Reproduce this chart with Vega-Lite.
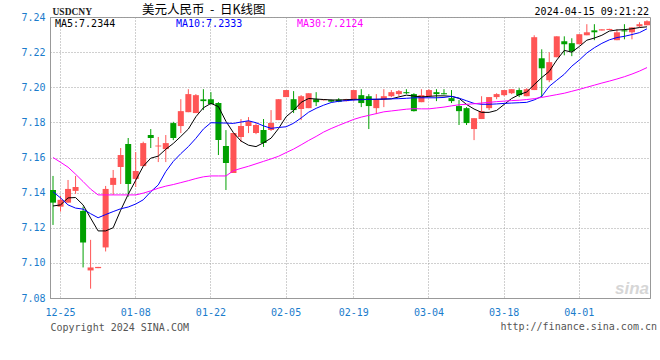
{
"$schema": "https://vega.github.io/schema/vega-lite/v6.json",
"width": 600, "height": 281,
"autosize": "none",
"padding": {"left": 50, "top": 17, "right": 10, "bottom": 62},
"background": "#ffffff",
"title": {"text": "美元人民币\u00a0\u00a0-\u00a0\u00a0日K线图", "anchor": "start", "frame": "group", "dx": 92, "dy": 24, "offset": 1, "font": "Noto Sans CJK SC", "fontSize": 12.5, "fontWeight": "normal", "color": "#000000", "baseline": "bottom"},
"data": {"values": [
{"d":"2023-12-22","o":7.1415,"h":7.1495,"l":7.1216,"c":7.1343,"m5":7.1324,"m10":7.1405,"m30":7.1600},
{"d":"2023-12-25","o":7.1320,"h":7.1381,"l":7.1292,"c":7.1359,"m5":7.1330,"m10":7.1370,"m30":7.1573},
{"d":"2023-12-26","o":7.1343,"h":7.1472,"l":7.1343,"c":7.1421,"m5":7.1370,"m10":7.1330,"m30":7.1545},
{"d":"2023-12-27","o":7.1410,"h":7.1495,"l":7.1393,"c":7.1432,"m5":7.1372,"m10":7.1312,"m30":7.1505},
{"d":"2023-12-28","o":7.1296,"h":7.1320,"l":7.0974,"c":7.1116,"m5":7.1330,"m10":7.1306,"m30":7.1463},
{"d":"2023-12-29","o":7.0957,"h":7.1131,"l":7.0853,"c":7.0974,"m5":7.1255,"m10":7.1280,"m30":7.1420},
{"d":"2024-01-01","o":7.0970,"h":7.0977,"l":7.0970,"c":7.0977,"m5":7.1182,"m10":7.1257,"m30":7.1387},
{"d":"2024-01-02","o":7.1088,"h":7.1438,"l":7.1065,"c":7.1421,"m5":7.1182,"m10":7.1275,"m30":7.1387},
{"d":"2024-01-03","o":7.1444,"h":7.1529,"l":7.1387,"c":7.1484,"m5":7.1200,"m10":7.1292,"m30":7.1387},
{"d":"2024-01-04","o":7.1546,"h":7.1654,"l":7.1449,"c":7.1614,"m5":7.1300,"m10":7.1308,"m30":7.1387},
{"d":"2024-01-05","o":7.1677,"h":7.1711,"l":7.1377,"c":7.1449,"m5":7.1390,"m10":7.1318,"m30":7.1387},
{"d":"2024-01-08","o":7.1478,"h":7.1631,"l":7.1432,"c":7.1523,"m5":7.1470,"m10":7.1335,"m30":7.1387},
{"d":"2024-01-09","o":7.1551,"h":7.1690,"l":7.1551,"c":7.1682,"m5":7.1550,"m10":7.1359,"m30":7.1397},
{"d":"2024-01-10","o":7.1728,"h":7.1762,"l":7.1654,"c":7.1711,"m5":7.1596,"m10":7.1405,"m30":7.1410},
{"d":"2024-01-11","o":7.1663,"h":7.1717,"l":7.1574,"c":7.1668,"m5":7.1608,"m10":7.1444,"m30":7.1425},
{"d":"2024-01-12","o":7.1648,"h":7.1728,"l":7.1574,"c":7.1682,"m5":7.1647,"m10":7.1520,"m30":7.1437},
{"d":"2024-01-15","o":7.1796,"h":7.1803,"l":7.1699,"c":7.1711,"m5":7.1680,"m10":7.1578,"m30":7.1446},
{"d":"2024-01-16","o":7.1779,"h":7.1932,"l":7.1739,"c":7.1864,"m5":7.1720,"m10":7.1622,"m30":7.1457},
{"d":"2024-01-17","o":7.1858,"h":7.1989,"l":7.1858,"c":7.1961,"m5":7.1762,"m10":7.1662,"m30":7.1468},
{"d":"2024-01-18","o":7.1853,"h":7.1961,"l":7.1853,"c":7.1955,"m5":7.1832,"m10":7.1709,"m30":7.1480},
{"d":"2024-01-19","o":7.1931,"h":7.1989,"l":7.1870,"c":7.1921,"m5":7.1883,"m10":7.1762,"m30":7.1490},
{"d":"2024-01-22","o":7.1932,"h":7.1972,"l":7.1902,"c":7.1904,"m5":7.1908,"m10":7.1798,"m30":7.1495},
{"d":"2024-01-23","o":7.1910,"h":7.1915,"l":7.1614,"c":7.1699,"m5":7.1890,"m10":7.1797,"m30":7.1495},
{"d":"2024-01-24","o":7.1665,"h":7.1756,"l":7.1415,"c":7.1569,"m5":7.1806,"m10":7.1796,"m30":7.1495},
{"d":"2024-01-25","o":7.1512,"h":7.1739,"l":7.1512,"c":7.1739,"m5":7.1741,"m10":7.1794,"m30":7.1525},
{"d":"2024-01-26","o":7.1717,"h":7.1819,"l":7.1688,"c":7.1779,"m5":7.1694,"m10":7.1802,"m30":7.1538},
{"d":"2024-01-29","o":7.1779,"h":7.1830,"l":7.1739,"c":7.1807,"m5":7.1670,"m10":7.1809,"m30":7.1550},
{"d":"2024-01-30","o":7.1739,"h":7.1796,"l":7.1733,"c":7.1785,"m5":7.1662,"m10":7.1798,"m30":7.1564},
{"d":"2024-01-31","o":7.1756,"h":7.1819,"l":7.1660,"c":7.1682,"m5":7.1684,"m10":7.1780,"m30":7.1578},
{"d":"2024-02-01","o":7.1756,"h":7.1870,"l":7.1751,"c":7.1796,"m5":7.1710,"m10":7.1766,"m30":7.1592},
{"d":"2024-02-02","o":7.1813,"h":7.1932,"l":7.1813,"c":7.1932,"m5":7.1765,"m10":7.1771,"m30":7.1607},
{"d":"2024-02-05","o":7.1944,"h":7.1984,"l":7.1944,"c":7.1984,"m5":7.1832,"m10":7.1775,"m30":7.1628},
{"d":"2024-02-06","o":7.1932,"h":7.1978,"l":7.1853,"c":7.1870,"m5":7.1868,"m10":7.1795,"m30":7.1648},
{"d":"2024-02-07","o":7.1876,"h":7.1955,"l":7.1813,"c":7.1949,"m5":7.1914,"m10":7.1825,"m30":7.1672},
{"d":"2024-02-08","o":7.1881,"h":7.1966,"l":7.1881,"c":7.1966,"m5":7.1936,"m10":7.1858,"m30":7.1697},
{"d":"2024-02-09","o":7.1932,"h":7.1972,"l":7.1893,"c":7.1915,"m5":7.1933,"m10":7.1880,"m30":7.1720},
{"d":"2024-02-13","o":7.1926,"h":7.1933,"l":7.1924,"c":7.1932,"m5":7.1930,"m10":7.1898,"m30":7.1745},
{"d":"2024-02-14","o":7.1927,"h":7.1930,"l":7.1916,"c":7.1918,"m5":7.1928,"m10":7.1913,"m30":7.1765},
{"d":"2024-02-15","o":7.1930,"h":7.1938,"l":7.1915,"c":7.1917,"m5":7.1927,"m10":7.1920,"m30":7.1783},
{"d":"2024-02-16","o":7.1921,"h":7.1934,"l":7.1919,"c":7.1932,"m5":7.1929,"m10":7.1924,"m30":7.1800},
{"d":"2024-02-19","o":7.1932,"h":7.1984,"l":7.1921,"c":7.1984,"m5":7.1931,"m10":7.1927,"m30":7.1817},
{"d":"2024-02-20","o":7.1955,"h":7.1989,"l":7.1887,"c":7.1910,"m5":7.1931,"m10":7.1929,"m30":7.1830},
{"d":"2024-02-21","o":7.1949,"h":7.1961,"l":7.1762,"c":7.1893,"m5":7.1931,"m10":7.1931,"m30":7.1840},
{"d":"2024-02-22","o":7.1881,"h":7.1961,"l":7.1847,"c":7.1932,"m5":7.1931,"m10":7.1932,"m30":7.1850},
{"d":"2024-02-23","o":7.1932,"h":7.1989,"l":7.1887,"c":7.1949,"m5":7.1932,"m10":7.1933,"m30":7.1860},
{"d":"2024-02-26","o":7.1949,"h":7.1984,"l":7.1944,"c":7.1972,"m5":7.1934,"m10":7.1934,"m30":7.1865},
{"d":"2024-02-27","o":7.1961,"h":7.1984,"l":7.1949,"c":7.1978,"m5":7.1945,"m10":7.1935,"m30":7.1870},
{"d":"2024-02-28","o":7.1972,"h":7.1989,"l":7.1961,"c":7.1966,"m5":7.1955,"m10":7.1937,"m30":7.1875},
{"d":"2024-02-29","o":7.1961,"h":7.1966,"l":7.1862,"c":7.1864,"m5":7.1950,"m10":7.1940,"m30":7.1878},
{"d":"2024-03-01","o":7.1915,"h":7.1989,"l":7.1915,"c":7.1955,"m5":7.1945,"m10":7.1940,"m30":7.1877},
{"d":"2024-03-04","o":7.1949,"h":7.1989,"l":7.1949,"c":7.1984,"m5":7.1948,"m10":7.1940,"m30":7.1877},
{"d":"2024-03-05","o":7.1972,"h":7.1989,"l":7.1921,"c":7.1961,"m5":7.1951,"m10":7.1940,"m30":7.1882},
{"d":"2024-03-06","o":7.1966,"h":7.1989,"l":7.1959,"c":7.1960,"m5":7.1951,"m10":7.1942,"m30":7.1887},
{"d":"2024-03-07","o":7.1938,"h":7.1984,"l":7.1910,"c":7.1921,"m5":7.1948,"m10":7.1948,"m30":7.1894},
{"d":"2024-03-08","o":7.1893,"h":7.1927,"l":7.1785,"c":7.1864,"m5":7.1937,"m10":7.1938,"m30":7.1900},
{"d":"2024-03-11","o":7.1881,"h":7.1887,"l":7.1785,"c":7.1796,"m5":7.1902,"m10":7.1923,"m30":7.1903},
{"d":"2024-03-12","o":7.1762,"h":7.1824,"l":7.1699,"c":7.1824,"m5":7.1876,"m10":7.1908,"m30":7.1906},
{"d":"2024-03-13","o":7.1819,"h":7.1949,"l":7.1819,"c":7.1864,"m5":7.1857,"m10":7.1903,"m30":7.1910},
{"d":"2024-03-14","o":7.1881,"h":7.1944,"l":7.1870,"c":7.1944,"m5":7.1857,"m10":7.1903,"m30":7.1914},
{"d":"2024-03-15","o":7.1944,"h":7.1966,"l":7.1932,"c":7.1961,"m5":7.1868,"m10":7.1905,"m30":7.1918},
{"d":"2024-03-18","o":7.1955,"h":7.1984,"l":7.1949,"c":7.1984,"m5":7.1902,"m10":7.1908,"m30":7.1921},
{"d":"2024-03-19","o":7.1966,"h":7.1989,"l":7.1961,"c":7.1989,"m5":7.1936,"m10":7.1910,"m30":7.1924},
{"d":"2024-03-20","o":7.1984,"h":7.1995,"l":7.1944,"c":7.1955,"m5":7.1958,"m10":7.1912,"m30":7.1926},
{"d":"2024-03-21","o":7.1949,"h":7.1995,"l":7.1949,"c":7.1989,"m5":7.1973,"m10":7.1914,"m30":7.1930},
{"d":"2024-03-22","o":7.1984,"h":7.2296,"l":7.1984,"c":7.2285,"m5":7.2015,"m10":7.1928,"m30":7.1935},
{"d":"2024-03-25","o":7.2165,"h":7.2216,"l":7.1944,"c":7.2108,"m5":7.2055,"m10":7.1948,"m30":7.1942},
{"d":"2024-03-26","o":7.2040,"h":7.2199,"l":7.2029,"c":7.2143,"m5":7.2090,"m10":7.2005,"m30":7.1950},
{"d":"2024-03-27","o":7.2171,"h":7.2290,"l":7.2171,"c":7.2290,"m5":7.2155,"m10":7.2040,"m30":7.1958},
{"d":"2024-03-28","o":7.2262,"h":7.2290,"l":7.2182,"c":7.2245,"m5":7.2210,"m10":7.2074,"m30":7.1966},
{"d":"2024-03-29","o":7.2251,"h":7.2279,"l":7.2177,"c":7.2205,"m5":7.2200,"m10":7.2120,"m30":7.1977},
{"d":"2024-04-01","o":7.2245,"h":7.2302,"l":7.2245,"c":7.2302,"m5":7.2232,"m10":7.2155,"m30":7.1988},
{"d":"2024-04-02","o":7.2296,"h":7.2359,"l":7.2296,"c":7.2313,"m5":7.2268,"m10":7.2195,"m30":7.2000},
{"d":"2024-04-03","o":7.2324,"h":7.2359,"l":7.2268,"c":7.2313,"m5":7.2280,"m10":7.2225,"m30":7.2012},
{"d":"2024-04-05","o":7.2323,"h":7.2330,"l":7.2323,"c":7.2330,"m5":7.2296,"m10":7.2250,"m30":7.2024},
{"d":"2024-04-08","o":7.2326,"h":7.2333,"l":7.2326,"c":7.2332,"m5":7.2320,"m10":7.2270,"m30":7.2035},
{"d":"2024-04-09","o":7.2268,"h":7.2330,"l":7.2268,"c":7.2313,"m5":7.2326,"m10":7.2283,"m30":7.2047},
{"d":"2024-04-10","o":7.2324,"h":7.2359,"l":7.2273,"c":7.2318,"m5":7.2328,"m10":7.2290,"m30":7.2060},
{"d":"2024-04-11","o":7.2313,"h":7.2341,"l":7.2273,"c":7.2341,"m5":7.2333,"m10":7.2300,"m30":7.2075},
{"d":"2024-04-12","o":7.2347,"h":7.2370,"l":7.2341,"c":7.2359,"m5":7.2340,"m10":7.2311,"m30":7.2092},
{"d":"2024-04-15","o":7.2353,"h":7.2381,"l":7.2353,"c":7.2376,"m5":7.2344,"m10":7.2333,"m30":7.2112}
]},
"encoding": {
  "x": {"field": "d", "type": "ordinal", "title": "Copyright 2024 SINA.COM",
    "scale": {"paddingInner": 0.2, "paddingOuter": 0},
    "axis": {"values": ["2023-12-25","2024-01-08","2024-01-22","2024-02-05","2024-02-19","2024-03-04","2024-03-18","2024-04-01"],
      "labelExpr": "slice(datum.value, 5)", "labelAngle": 0, "grid": true, "bandPosition": 0.5, "ticks": false, "labelPadding": 9,
      "titleX": 0, "titleY": 29, "titleAlign": "left", "titleBaseline": "middle", "titleFont": "DejaVu Sans Mono", "titleFontSize": 10, "titleFontWeight": "normal", "titleColor": "#555555"}}
},
"layer": [
  {"data": {"values": [{"t": "sina"}]},
   "mark": {"type": "text", "align": "right", "baseline": "alphabetic", "font": "Liberation Sans", "fontSize": 17, "fontStyle": "italic", "fontWeight": "bold", "color": "#d6d6d6", "dx": 2},
   "encoding": {"x": {"datum": "2024-04-15", "type": "ordinal"}, "y": {"datum": 7.0824, "type": "quantitative"}, "text": {"field": "t"}}},
  {"mark": {"type": "rule", "strokeWidth": 1},
   "encoding": {
     "y": {"field": "l", "type": "quantitative", "title": "USDCNY",
       "scale": {"domain": [7.08, 7.24], "nice": false, "zero": false},
       "axis": {"tickCount": 8, "format": ".2f", "grid": true, "ticks": false, "labelPadding": 5, "labelOverlap": false, "labelBound": false,
         "titleAngle": 0, "titleX": 2, "titleY": -6, "titleAlign": "left", "titleBaseline": "middle", "titleFont": "Liberation Serif", "titleFontSize": 9.5, "titleFontWeight": "bold", "titleColor": "#222222"}},
     "y2": {"field": "h"},
     "color": {"condition": {"test": "datum.c >= datum.o", "value": "#ff5555"}, "value": "#00a000"}}},
  {"mark": {"type": "bar"},
   "encoding": {
     "y": {"field": "o", "type": "quantitative", "title": "USDCNY"},
     "y2": {"field": "c"},
     "color": {"condition": {"test": "datum.c >= datum.o", "value": "#ff5555"}, "value": "#00a000"}}},
  {"transform": [{"fold": ["m5", "m10", "m30"], "as": ["s", "v"]}],
   "mark": {"type": "line", "strokeWidth": 1},
   "encoding": {
     "y": {"field": "v", "type": "quantitative", "title": "USDCNY"},
     "color": {"field": "s", "type": "nominal",
       "scale": {"domain": ["m5", "m10", "m30"], "range": ["#000000", "#0000ff", "#ff00ff"]},
       "legend": {"orient": "none", "legendX": -5, "legendY": 1.5, "direction": "horizontal", "columns": 3, "gridAlign": "all", "columnPadding": 44, "rowPadding": 0, "padding": 0, "title": null,
         "symbolSize": 0, "symbolStrokeWidth": 0, "symbolOpacity": 0, "labelOffset": 0, "labelFont": "DejaVu Sans Mono", "labelFontSize": 10, "labelLimit": 0,
         "labelExpr": "datum.value == 'm5' ? 'MA5:7.2344' : datum.value == 'm10' ? 'MA10:7.2333' : 'MA30:7.2124'",
         "encode": {"labels": {"update": {"fill": {"scale": "color", "field": "value"}}}}}}}},
  {"data": {"values": [{"t": "2024-04-15 09:21:22"}]},
   "mark": {"type": "text", "align": "right", "baseline": "middle", "font": "DejaVu Sans Mono", "fontSize": 10, "color": "#000000", "dx": 2},
   "encoding": {"x": {"datum": "2024-04-15", "type": "ordinal"}, "y": {"datum": 7.2428, "type": "quantitative"}, "text": {"field": "t"}}},
  {"data": {"values": [{"t": "http://finance.sina.com.cn"}]},
   "mark": {"type": "text", "align": "right", "baseline": "middle", "font": "DejaVu Sans Mono", "fontSize": 10, "color": "#555555", "dx": 10},
   "encoding": {"x": {"datum": "2024-04-15", "type": "ordinal"}, "y": {"datum": 7.0635, "type": "quantitative"}, "text": {"field": "t"}}}
],
"config": {
  "view": {"stroke": "#999999", "strokeWidth": 1},
  "axis": {"labelFont": "DejaVu Sans Mono", "labelFontSize": 10, "labelColor": "#1a7ccc", "gridColor": "#a0a0a0", "gridDash": [1, 2], "gridWidth": 1, "domainColor": "#999999", "domainWidth": 1},
  "axisY": {"labelOverlap": false}
}
}
